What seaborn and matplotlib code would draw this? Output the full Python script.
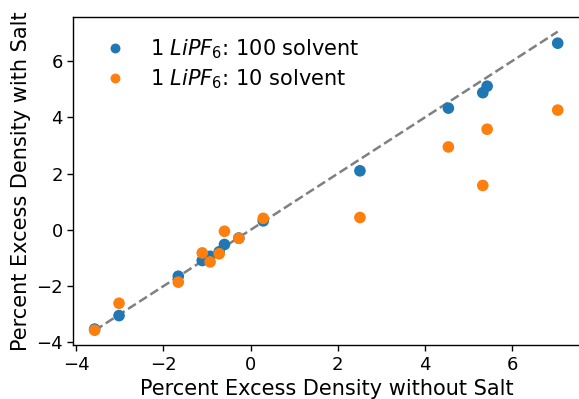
import matplotlib
matplotlib.use("Agg")
import matplotlib.pyplot as plt
import seaborn as sns
import numpy as np
import pandas as pd

x_no_salt = [-3.58, -3.02, -1.66, -1.11, -0.93, -0.72, -0.60, -0.27, 0.29, 2.51, 4.54, 5.33, 5.43, 7.05]
y_salt_100 = [-3.53, -3.05, -1.65, -1.09, -0.94, -0.78, -0.52, -0.29, 0.32, 2.10, 4.33, 4.88, 5.11, 6.64]
y_salt_10 = [-3.57, -2.61, -1.86, -0.82, -1.14, -0.85, -0.05, -0.30, 0.41, 0.44, 2.95, 1.58, 3.58, 4.26]
labels = [r"1 $LiPF_6$: 100 solvent", r"1 $LiPF_6$: 10 solvent"]

df = pd.concat([
    pd.DataFrame({"x": x_no_salt, "y": y_salt_100, "series": labels[0]}),
    pd.DataFrame({"x": x_no_salt, "y": y_salt_10, "series": labels[1]}),
])

sns.set_style("ticks")
plt.rcParams["font.family"] = ["DejaVu Sans"]
plt.rcParams["mathtext.fontset"] = "dejavusans"
plt.rcParams["text.color"] = "black"
plt.rcParams["axes.labelcolor"] = "black"
plt.rcParams["xtick.color"] = "black"
plt.rcParams["ytick.color"] = "black"

fig = plt.figure(figsize=(5.79, 3.99), dpi=100)
ax = fig.add_axes([0.1266, 0.135, 0.875, 0.823])

lo, hi = min(x_no_salt), max(x_no_salt)
ax.plot([lo, hi], [lo, hi], linestyle="--", color="gray", linewidth=1.8, zorder=1)

sns.scatterplot(data=df, x="x", y="y", hue="series", palette=["#1f77b4", "#ff7f0e"],
                s=70, linewidth=0, ax=ax, zorder=3)

ax.set_xlim(-4.07, 7.56)
ax.set_ylim(-4.1, 7.58)
ax.set_xticks([-4, -2, 0, 2, 4, 6])
ax.set_yticks([-4, -2, 0, 2, 4, 6])
ax.set_xticklabels(["\u22124", "\u22122", "0", "2", "4", "6"])
ax.set_yticklabels(["\u22124", "\u22122", "0", "2", "4", "6"])
ax.tick_params(labelsize=13, length=4, width=1, colors="black")
for sp in ax.spines.values():
    sp.set_visible(True)
    sp.set_color("black")
    sp.set_linewidth(1)

ax.set_xlabel("Percent Excess Density without Salt", fontsize=15)
ax.set_ylabel("Percent Excess Density with Salt", fontsize=15)

leg = ax.legend(loc="upper left", frameon=False, fontsize=15, title=None,
                markerscale=0.85, handletextpad=0.7, labelspacing=0.3,
                borderaxespad=0.6)

fig.savefig("out.png", dpi=100)
